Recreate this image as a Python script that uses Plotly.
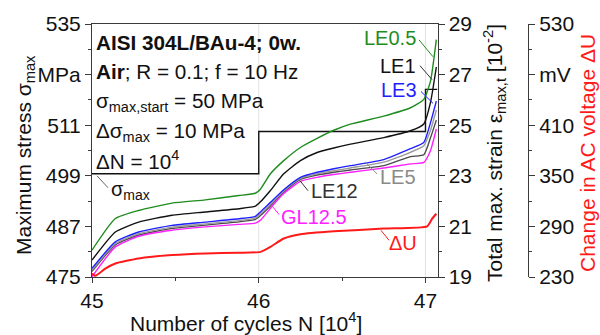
import plotly.graph_objects as go

# ---------------- data ----------------
# number of cycles N [10^4]
cycles = [45.00, 45.14, 45.28, 45.48, 45.68, 45.88, 45.98, 46.01, 46.07, 46.15,
          46.25, 46.35, 46.45, 46.55, 46.75, 46.91, 46.99, 47.03, 47.065]

# total max. strain [10^-2] for each gauge length
strain_le05 = [20.06, 21.31, 21.63, 21.92, 22.05, 22.22, 22.31, 22.47, 23.08, 23.60,
               24.12, 24.48, 24.80, 25.04, 25.36, 25.69, 26.02, 26.74, 28.38]
strain_le1 = [19.67, 20.78, 21.17, 21.44, 21.57, 21.70, 21.80, 21.97, 22.42, 23.08,
              23.60, 23.92, 24.10, 24.25, 24.51, 24.78, 25.05, 25.90, 27.30]
strain_le3 = [19.34, 20.39, 20.78, 21.04, 21.17, 21.30, 21.40, 21.57, 21.95, 22.45,
              22.94, 23.14, 23.28, 23.40, 23.64, 24.07, 24.32, 25.10, 25.95]
strain_le5 = [19.27, 20.32, 20.71, 20.97, 21.10, 21.23, 21.33, 21.49, 21.87, 22.40,
              22.90, 23.08, 23.20, 23.31, 23.54, 23.93, 24.19, 24.80, 25.60]
strain_le12 = [19.22, 20.27, 20.66, 20.92, 21.05, 21.18, 21.28, 21.43, 21.81, 22.35,
               22.86, 23.03, 23.14, 23.23, 23.40, 23.76, 23.83, 24.50, 25.20]
strain_gl125 = [19.01, 20.19, 20.61, 20.85, 20.98, 21.08, 21.13, 21.24, 21.72, 22.30,
                22.78, 22.94, 23.05, 23.14, 23.31, 23.47, 23.53, 24.00, 24.85]

# change in AC voltage [mV]
cycles_du = [45.00, 45.02, 45.08, 45.14, 45.28, 45.48, 45.68, 45.88, 46.01, 46.07,
             46.15, 46.25, 46.45, 46.75, 47.01, 47.04, 47.065]
delta_u = [234.0, 231.5, 240.0, 246.0, 252.0, 256.0, 258.0, 258.7, 259.8, 265.7,
           275.6, 280.7, 284.2, 287.4, 290.1, 299.2, 305.0]

# stepwise load increase of the maximum stress [MPa]
cycles_sigma = [45.0, 46.0, 46.0, 47.0, 47.0, 47.072]
sigma_max = [499.5, 499.5, 509.5, 509.5, 519.5, 519.5]

# load step positions
step_cycles = [46, 47]

# axis ticks
x_ticks = [45, 46, 47]
stress_ticks = [475, 487, 499, 511, 523, 535]
stress_labels = ["475", "487", "499", "511", "MPa", "535"]
strain_ticks = [19, 21, 23, 25, 27, 29]
volt_ticks = [230, 290, 350, 410, 470, 530]
volt_labels = ["230", "290", "350", "410", "mV", "530"]

# ---------------- layout helpers ----------------
W, H = 600, 335
ML, MR, MT, MB = 92, 72, 22, 58
PW, PH = W - ML - MR, H - MT - MB
X_RIGHT = 437.5  # right edge of the main frame in px


def px(x):
    return (x - ML) / PW


def py(y):
    return 1 - (y - MT) / PH


FONT = "Liberation Sans, Arial, sans-serif"
AX = "#3a3a3a"

fig = go.Figure()

# load-step reference lines
for c in step_cycles:
    fig.add_shape(type="line", xref="x", yref="paper", x0=c, x1=c, y0=0, y1=1,
                  line=dict(color="#e2e2e2", width=1), layer="below")

series = [
    (strain_le12, "#4a4a4a", "LE12"),
    (strain_le5, "#9a9a9a", "LE5"),
    (strain_gl125, "#ff20ff", "GL12.5"),
    (strain_le3, "#1f1fff", "LE3"),
    (strain_le1, "#111111", "LE1"),
    (strain_le05, "#1e8c1e", "LE0.5"),
]
for vals, col, name in series:
    fig.add_trace(go.Scatter(x=cycles, y=vals, mode="lines", name=name,
                             line=dict(color=col, width=1.4, shape="spline",
                                       smoothing=0.5),
                             yaxis="y2"))

fig.add_trace(go.Scatter(x=cycles_du, y=delta_u, mode="lines", name="ΔU",
                         line=dict(color="#ff1a1a", width=2, shape="spline",
                                   smoothing=0.5),
                         yaxis="y3"))
fig.add_trace(go.Scatter(x=cycles_sigma, y=sigma_max, mode="lines", name="σmax",
                         line=dict(color="#111111", width=1.4), yaxis="y"))

tickfont = dict(family=FONT, size=21, color="#111")
common = dict(showgrid=False, zeroline=False, showline=True, linecolor=AX,
              linewidth=1, ticks="outside", tickcolor=AX, ticklen=6,
              tickfont=tickfont)

fig.update_layout(
    width=W, height=H,
    margin=dict(l=ML, r=MR, t=MT, b=MB),
    paper_bgcolor="white", plot_bgcolor="white",
    showlegend=False,
    font=dict(family=FONT, size=21, color="#111"),
    xaxis=dict(common, domain=[0, px(X_RIGHT)], range=[45, 47.072],
               tickmode="array", tickvals=x_ticks, mirror=True, ticklen=5,
               minor=dict(ticks="outside", ticklen=3, dtick=0.5, tick0=45,
                          tickcolor=AX)),
    yaxis=dict(common, range=[475, 535], tickmode="array",
               tickvals=stress_ticks, ticktext=stress_labels,
               minor=dict(ticks="outside", ticklen=3, dtick=6, tick0=475,
                          tickcolor=AX)),
    yaxis2=dict(common, range=[19, 29], overlaying="y", side="right",
                anchor="x", tickmode="array", tickvals=strain_ticks,
                minor=dict(ticks="outside", ticklen=3, dtick=1, tick0=19,
                           tickcolor=AX)),
    yaxis3=dict(common, range=[230, 530], overlaying="y", side="right",
                anchor="free", position=1.0, tickmode="array",
                tickvals=volt_ticks, ticktext=volt_labels,
                minor=dict(ticks="outside", ticklen=3, dtick=30, tick0=230,
                           tickcolor=AX)),
)

ann = []


def text(x, y, s, color="#111", xanchor="left", size=21, angle=0):
    ann.append(dict(xref="paper", yref="paper", x=px(x), y=py(y), text=s,
                    showarrow=False, xanchor=xanchor, yanchor="middle",
                    textangle=angle, font=dict(family=FONT, size=size, color=color)))


def leader(x0, y0, x1, y1, color):
    fig.add_shape(type="line", xref="paper", yref="paper",
                  x0=px(x0), y0=py(y0), x1=px(x1), y1=py(y1),
                  line=dict(color=color, width=1))


# test conditions
TS = 20.7
text(94, 41, "<b>AISI 304L/BAu-4; 0w.</b>", size=TS)
text(94, 70, "<b>Air</b>; R = 0.1; f = 10 Hz", size=TS)
text(94, 101, "σ<sub>max,start</sub> = 50 MPa", size=TS)
text(94, 131, "Δσ<sub>max</sub> = 10 MPa", size=TS)
text(94, 159, "ΔN = 10<sup>4</sup>", size=TS)

# curve labels
text(109, 190, "σ<sub>max</sub>", size=20)
leader(97, 175, 108, 187, "#666")
text(418, 36, "LE0.5", "#1e8c1e", "right", 20)
leader(419, 38, 433, 55, "#1e8c1e")
text(418, 64, "LE1", "#111", "right", 20)
leader(420, 64, 432, 78, "#333")
text(419, 89, "LE3", "#1f1fff", "right", 20)
leader(421, 90, 433, 102, "#1f1fff")
text(309, 190, "LE12", "#333", "left", 20)
leader(300, 180, 308, 190, "#333")
text(378, 176, "LE5", "#8a8a8a", "left", 20)
leader(365, 161, 377, 173, "#8a8a8a")
text(279, 217, "GL12.5", "#ff20ff", "left", 20)
leader(271, 204, 279, 214, "#ff20ff")
text(387, 243, "ΔU", "#ff1a1a", "left", 20)
leader(381, 230, 389, 240, "#ff1a1a")

# axis titles
text(25, 154, "Maximum stress σ<sub>max</sub>", "#111", "center", 21, -90)
text(495, 152, "Total max. strain ε<sub>max,t</sub> [10<sup>-2</sup>]", "#111", "center", 21, -90)
text(588, 152, "Change in AC voltage ΔU", "#ff1a1a", "center", 21, -90)
text(246, 322, "Number of cycles N [10<sup>4</sup>]", "#111", "center", 21)

fig.update_layout(annotations=ann)
fig.write_html("out.html")
